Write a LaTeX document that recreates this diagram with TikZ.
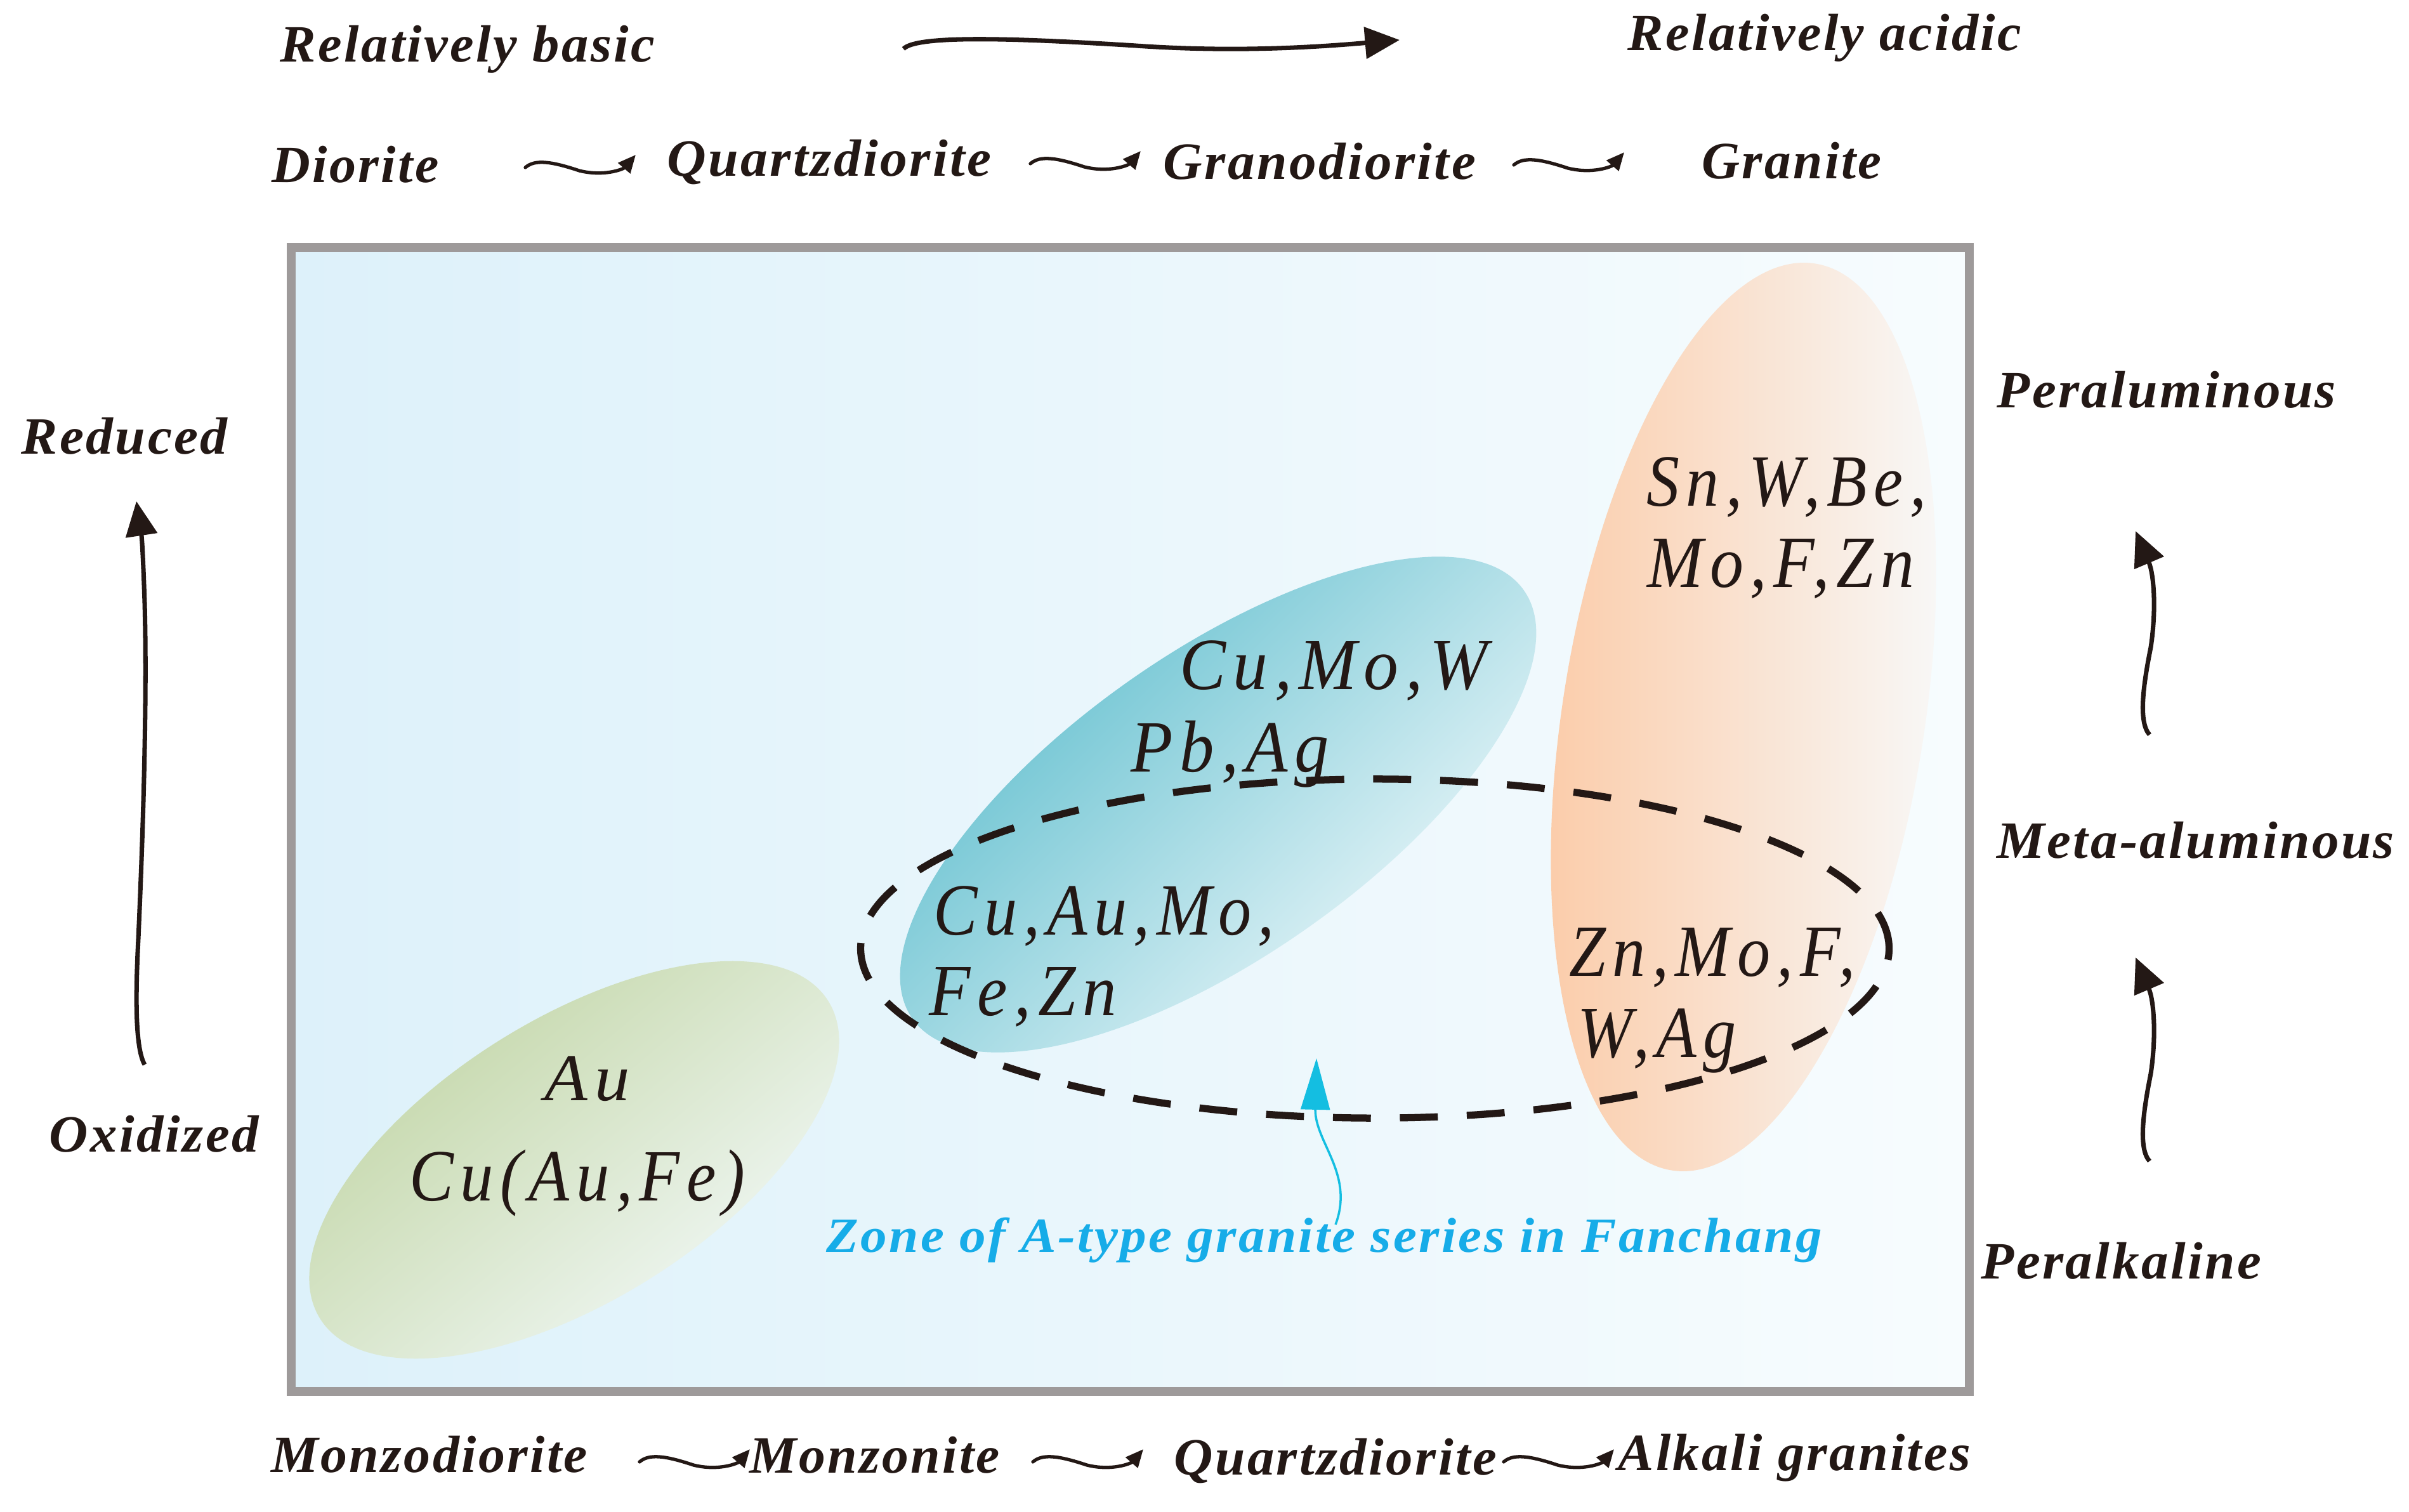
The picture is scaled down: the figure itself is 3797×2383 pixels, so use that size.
\documentclass[tikz,border=0pt]{standalone}
\usepackage{fontspec}
\usepackage{graphicx}
\setmainfont{Liberation Serif}
\newfontfamily\lblfont[LetterSpace=4]{Liberation Serif}
\newfontfamily\elfont[LetterSpace=10]{Liberation Serif}
\usetikzlibrary{arrows.meta}
\definecolor{ink}{RGB}{35,24,21}
\definecolor{boxgray}{RGB}{158,154,154}
\definecolor{bgL}{RGB}{221,241,250}
\definecolor{bgM}{RGB}{231,245,251}
\definecolor{bgR}{RGB}{247,252,254}
\definecolor{tealA}{RGB}{90,188,204}
\definecolor{tealM}{RGB}{168,220,229}
\definecolor{tealB}{RGB}{246,251,253}
\definecolor{grnA}{RGB}{192,212,162}
\definecolor{grnM}{RGB}{218,231,200}
\definecolor{grnB}{RGB}{244,250,251}
\definecolor{orA}{RGB}{251,202,166}
\definecolor{orM}{RGB}{252,227,208}
\definecolor{orB}{RGB}{248,250,251}
\definecolor{zoneblue}{RGB}{22,172,232}
\definecolor{zonecyan}{RGB}{20,190,225}
\newsavebox\fitbox
\newdimen\fitdim
\newcommand\fitw[2]{\sbox\fitbox{#2}\fitdim=\wd\fitbox\pgfmathsetmacro\fitfac{#1*0.284528/\fitdim}\scalebox{\fitfac}[1]{\usebox\fitbox}}
\tikzset{
  lbl/.style={text=ink, inner sep=0pt, anchor=base west, font=\lblfont\fontsize{23.5}{28}\selectfont\bfseries\itshape},
  elem/.style={text=ink, inner sep=0pt, anchor=base west, font=\elfont\fontsize{33}{38}\selectfont\itshape},
  zonelbl/.style={text=zoneblue, inner sep=0pt, anchor=base west, font=\lblfont\fontsize{22}{26}\selectfont\bfseries\itshape},
  bigarrow/.style={draw=ink, line width=2pt, -{Triangle[width=14pt,length=15.5pt]}},
  tildearrow/.style={draw=ink, line width=1.5pt, line cap=round, -{Triangle[width=7pt,length=8pt]}},
  cyanarrow/.style={draw=zonecyan, line width=1pt, -{Triangle[width=13pt,length=23pt]}},
  zoneline/.style={draw=ink, line width=3.2pt, dash pattern=on 17pt off 13pt},
  boxline/.style={draw=boxgray, line width=3.8pt},
  tilde/.pic={\draw[tildearrow] (0,0) .. controls (15,-13) and (40,-10) .. (85,5) .. controls (125,15) and (155,2) .. (174,-20);}
}
\begin{document}
\begin{tikzpicture}[x=0.01cm, y=-0.01cm]
\useasboundingbox (0,0) rectangle (3797,2383);

% panel background
\shade[left color=bgL, middle color=bgM, right color=bgR] (459,390) rectangle (3104,2193);

% coloured fields
\shade[top color=grnA, middle color=grnM, bottom color=grnB, shading angle=40, rotate around={32:(905,1828)}]
  (905,1828) ellipse [x radius=4.72cm, y radius=2.22cm];
\shade[top color=tealA, middle color=tealM, bottom color=tealB, shading angle=45, rotate around={35:(1920,1268)}]
  (1920,1268) ellipse [x radius=5.88cm, y radius=2.4cm];
\shade[left color=orA, middle color=orM, right color=orB, rotate around={-9:(2748,1130)}]
  (2748,1130) ellipse [x radius=2.85cm, y radius=7.23cm];

% A-type zone
\draw[zoneline] (2167,1495) ellipse [x radius=8.1cm, y radius=2.67cm];

% frame
\draw[boxline] (459,390) rectangle (3104,2193);

% top labels
\node[lbl] (rb) at (441,98) {\fitw{590}{Relatively basic}};
\node[lbl] (ra) at (2565,80) {\fitw{620}{Relatively acidic}};
\coordinate (tA1) at (1424,77);
\coordinate (tA2) at (2206,63);
\draw[bigarrow] (tA1) .. controls (1445,55) and (1600,60) .. (1790,72) .. controls (1960,84) and (2100,72) .. (tA2);

\node[lbl] (dio) at (428,288) {\fitw{263}{Diorite}};
\node[lbl] (qd1) at (1051,278) {\fitw{511}{Quartzdiorite}};
\node[lbl] (gd) at (1833,283) {\fitw{492}{Granodiorite}};
\node[lbl] (gr) at (2682,282) {\fitw{283}{Granite}};
\pic at (828,264) {tilde};
\pic at (1624,258) {tilde};
\pic at (2386,260) {tilde};

% left labels
\node[lbl] (red) at (33,716) {\fitw{325}{Reduced}};
\node[lbl] (oxi) at (77,1815) {\fitw{330}{Oxidized}};
\coordinate (lA1) at (228,1678);
\coordinate (lA2) at (215,790);
\draw[bigarrow] (lA1) .. controls (212,1650) and (214,1560) .. (218,1480) .. controls (226,1300) and (232,1100) .. (228,950) .. controls (226,890) and (224,850) .. (lA2);

% right labels
\node[lbl] (peralu) at (3147,643) {\fitw{534}{Peraluminous}};
\node[lbl] (meta) at (3147,1352) {\fitw{626}{Meta-aluminous}};
\node[lbl] (peralk) at (3122,2015) {\fitw{441}{Peralkaline}};
\coordinate (rA1) at (3388,1158);
\coordinate (rA2) at (3366,837);
\coordinate (rB1) at (3388,1830);
\coordinate (rB2) at (3366,1509);
\draw[bigarrow] (rA1) .. controls (3370,1138) and (3378,1080) .. (3390,1020) .. controls (3399,960) and (3395,905) .. (rA2);
\draw[bigarrow] (rB1) .. controls (3370,1810) and (3378,1752) .. (3390,1692) .. controls (3399,1632) and (3395,1577) .. (rB2);

% bottom labels
\node[lbl] (mzd) at (427,2320) {\fitw{498}{Monzodiorite}};
\node[lbl] (mzn) at (1181,2321) {\fitw{394}{Monzonite}};
\node[lbl] (qd2) at (1850,2324) {\fitw{508}{Quartzdiorite}};
\node[lbl] (alk) at (2550,2317) {\fitw{555}{Alkali granites}};
\pic at (1008,2304) {tilde};
\pic at (1628,2304) {tilde};
\pic at (2370,2304) {tilde};

% element labels
\node[elem] (e1) at (2595,798) {\fitw{440}{Sn,W,Be,}};
\node[elem] (e2) at (2596,926) {\fitw{420}{Mo,F,Zn}};
\node[elem] (e3) at (1859,1087) {\fitw{485}{Cu,Mo,W}};
\node[elem] (e4) at (1782,1217) {\fitw{312}{Pb,Ag}};
\node[elem] (e5) at (1471,1473) {\fitw{537}{Cu,Au,Mo,}};
\node[elem] (e6) at (1464,1600) {\fitw{295}{Fe,Zn}};
\node[elem] (e7) at (2473,1538) {\fitw{450}{Zn,Mo,F,}};
\node[elem] (e8) at (2486,1666) {\fitw{250}{W,Ag}};
\node[elem, font=\elfont\fontsize{30}{34}\selectfont\itshape] (e9) at (858,1734) {\fitw{134}{Au}};
\node[elem] (e10) at (645,1892) {\fitw{528}{Cu(Au,Fe)}};

% zone label and pointer
\node[zonelbl] (zone) at (1302,1973) {\fitw{1568}{Zone of A-type granite series in Fanchang}};
\coordinate (cz1) at (2105,1930);
\coordinate (cz2) at (2075,1668);
\draw[cyanarrow] (cz1) .. controls (2135,1850) and (2072,1800) .. (cz2);
\end{tikzpicture}
\end{document}
